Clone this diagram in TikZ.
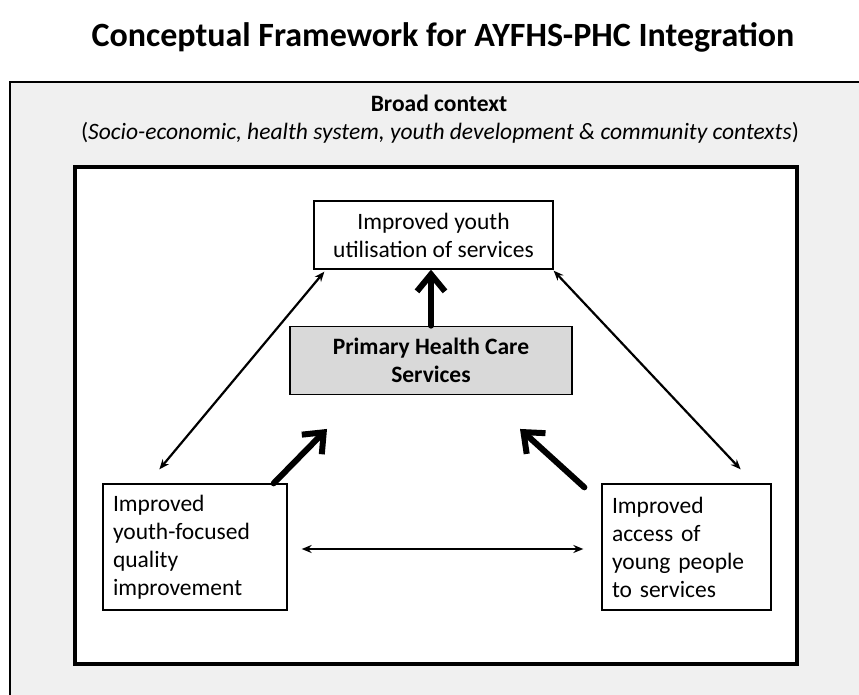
\documentclass[tikz,border=0pt]{standalone}
\usepackage{fontspec}
\setmainfont{Carlito}
\usetikzlibrary{arrows.meta,positioning,calc}
\definecolor{ctxgray}{HTML}{F0F0F0}
\definecolor{phcgray}{HTML}{D9D9D9}

\begin{document}
\begin{tikzpicture}[
  x=1pt, y=-1pt,
  box/.style={rectangle, draw, line width=1.3pt, fill=white, inner sep=0pt, font=\fontsize{23.5}{28}\selectfont},
  outcome/.style={box, minimum width=239pt, minimum height=68pt, align=center},
  domain/.style={box, minimum height=126pt, text width=#1, inner xsep=10pt, align=left},
  biarrow/.style={<->, >={Stealth[length=10pt, width=8pt]}, line width=2.2pt},
  bigarrow/.style={-{Straight Barb[length=17pt, width=28pt]}, line width=6pt, line cap=round, line join=round}
]
  \useasboundingbox (0,0) rectangle (859,695);
  \fill[white] (0,0) rectangle (859,695);
  \begin{scope}
    \clip (0,0) rectangle (859,695);
    \draw[fill=ctxgray, line width=2pt] (10,82) rectangle (880,720);
  \end{scope}

  \node[font=\bfseries\fontsize{34}{40}\selectfont] (title) at (443,37) {Conceptual Framework for AYFHS-PHC Integration};
  \node[font=\bfseries\fontsize{23.5}{28}\selectfont] (broad) at (439,103) {Broad context};
  \node[font=\fontsize{23.5}{28}\selectfont] (ctx) at (440,133) {(\textit{Socio-economic, health system, youth development \& community contexts})};

  % inner frame
  \draw[fill=white, line width=3.5pt] (75,167) rectangle (797,664);

  \node[outcome] (use) at (433.5,235) {Improved youth\\utilisation of services};
  \node[outcome, fill=phcgray, minimum width=282pt, font=\bfseries\fontsize{23.5}{28}\selectfont, below=56pt of use, xshift=-2.5pt] (phc) {Primary Health Care\\Services};
  \node[domain=164pt] (quality) at (195,547) {Improved\\youth-focused\\quality\\improvement};
  \node[domain=149pt] (access) at (686.5,547) {Improved\\access of\\young people\\to services};

  \coordinate (useL) at ($(use.south west)+(11,2)$);
  \coordinate (useR) at ($(use.south east)+(0,1)$);
  \coordinate (qualityT) at ($(quality.north west)+(57,-14)$);
  \coordinate (accessT) at ($(access.north east)+(-31,-14)$);
  \coordinate (phcL) at ($(phc.south)+(-104,34)$);
  \coordinate (phcR) at ($(phc.south)+(89,34)$);

  \draw[biarrow] (qualityT) -- (useL);
  \draw[biarrow] (useR) -- (accessT);
  \draw[biarrow] ($(quality.east)+(14,2)$) -- ($(access.west)+(-18,2)$);

  \draw[bigarrow] (phc.north) -- (phc.north |- use.south);
  \draw[bigarrow] ($(quality.north east)+(-14,0)$) -- (phcL);
  \draw[bigarrow] ($(access.north west)+(-17,4)$) -- (phcR);
\end{tikzpicture}
\end{document}
